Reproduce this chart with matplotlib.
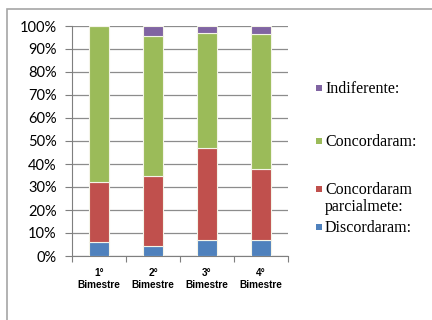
import matplotlib
matplotlib.use("Agg")
import matplotlib.pyplot as plt
import numpy as np
from matplotlib.patches import Rectangle

categories = ["1°\nBimestre", "2°\nBimestre", "3°\nBimestre", "4°\nBimestre"]
series_names = ["Discordaram:", "Concordaram\nparcialmete:", "Concordaram:", "Indiferente:"]
discordaram = [6.0, 4.5, 7.0, 7.0]
parcialmente = [26.0, 30.5, 40.0, 31.0]
concordaram = [68.0, 60.5, 50.0, 58.5]
indiferente = [0.0, 4.5, 3.0, 3.5]
colors = ["#4F81BD", "#C0504D", "#9BBB59", "#8064A2"]

fig = plt.figure(figsize=(4.32, 3.2), dpi=100)
fig.patch.set_facecolor("white")

# outer chart frame
fig.patches.append(Rectangle((7 / 432, -0.1), 1.2, 1 - 9 / 320 + 0.1,
                             transform=fig.transFigure, fill=False,
                             edgecolor="#a6a6a6", linewidth=1.2, zorder=0))

ax = fig.add_axes([72 / 432, 64 / 320, 216 / 432, 230 / 320])
x = np.arange(len(categories))
data = [discordaram, parcialmente, concordaram, indiferente]
bottom = np.zeros(len(categories))
for vals, c, name in zip(data, colors, series_names):
    ax.bar(x, vals, bottom=bottom, width=0.37, color=c, edgecolor="#f4f4e8",
           linewidth=0.8, zorder=3, label=name)
    bottom += np.array(vals)

ax.set_xlim(-0.5, len(categories) - 0.5)
ax.set_ylim(0, 100)
ax.set_yticks(np.arange(0, 101, 10))
ax.set_yticklabels([f"{v}%" for v in range(0, 101, 10)],
                   fontfamily="Lato", fontsize=10.5, color="black")
ax.yaxis.grid(True, color="#8c8c8c", linewidth=0.9, zorder=0)
ax.tick_params(axis="y", length=5, color="#7f7f7f", pad=6)

ax.set_xticks(np.arange(-0.5, len(categories), 1.0))
ax.set_xticklabels([])
ax.tick_params(axis="x", length=4, color="#7f7f7f")
for xi, lab in zip(x, categories):
    ax.text(xi, -5.0, lab, ha="center", va="top", fontsize=7.2,
            fontweight="bold", fontfamily="Liberation Sans", linespacing=1.3,
            transform=ax.transData)

for s in ["top", "right"]:
    ax.spines[s].set_visible(False)
ax.spines["left"].set_color("#7f7f7f")
ax.spines["bottom"].set_color("#7f7f7f")

# legend entries, top to bottom
legend_rows = [(3, 88), (2, 141), (1, 189), (0, 227)]
for idx, ypix in legend_rows:
    yf = 1 - ypix / 320
    fig.patches.append(Rectangle((316 / 432, yf - 3 / 320), 6 / 432, 6 / 320,
                                 transform=fig.transFigure,
                                 facecolor=colors[idx], edgecolor="none"))
    fig.text(325 / 432, yf + 7 / 320, series_names[idx], ha="left", va="top",
             fontsize=11.5, fontfamily="Liberation Serif", linespacing=1.05)

fig.savefig("out.png", dpi=100, facecolor="white")
